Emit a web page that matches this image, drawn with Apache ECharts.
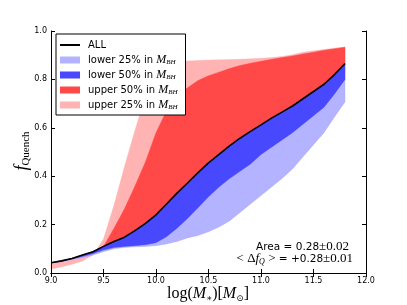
<!DOCTYPE html>
<html>
<head>
<meta charset="utf-8">
<script src="https://cdn.jsdelivr.net/npm/echarts@6/dist/echarts.min.js"></script>
<style>html,body{margin:0;padding:0;background:#fff;}#c{width:407px;height:305px;}</style>
</head>
<body>
<div id="c"></div>
<script>
// ---- data ----
const xs = [9.0,9.1,9.2,9.3,9.4,9.5,9.6,9.7,9.8,9.9,10.0,10.1,10.2,10.3,10.4,10.5,10.6,10.7,10.8,10.9,11.0,11.1,11.2,11.3,11.4,11.5,11.6,11.7,11.8];
const allLine = [0.042,0.05,0.06,0.074,0.088,0.11,0.13,0.148,0.175,0.205,0.24,0.285,0.33,0.372,0.415,0.455,0.49,0.525,0.557,0.585,0.612,0.64,0.665,0.69,0.72,0.75,0.78,0.82,0.865];
const lower25 = [0.042,0.048,0.056,0.064,0.074,0.088,0.1,0.105,0.108,0.11,0.113,0.12,0.13,0.145,0.155,0.17,0.19,0.215,0.25,0.285,0.32,0.355,0.39,0.43,0.48,0.53,0.58,0.645,0.707];
const lower50 = [0.042,0.048,0.058,0.068,0.08,0.095,0.105,0.11,0.113,0.117,0.125,0.15,0.185,0.225,0.27,0.315,0.355,0.39,0.42,0.45,0.49,0.52,0.55,0.58,0.615,0.65,0.685,0.74,0.80];
const upper50 = [0.042,0.05,0.06,0.074,0.088,0.11,0.185,0.265,0.36,0.46,0.58,0.67,0.73,0.765,0.795,0.815,0.83,0.845,0.857,0.867,0.875,0.883,0.89,0.897,0.905,0.912,0.92,0.927,0.933];
const upper25 = [0.017,0.025,0.036,0.05,0.074,0.14,0.28,0.44,0.59,0.73,0.82,0.862,0.872,0.876,0.878,0.88,0.881,0.882,0.883,0.885,0.887,0.89,0.895,0.902,0.912,0.918,0.924,0.929,0.934];
const xTickLabels = ['9.0','9.5','10.0','10.5','11.0','11.5','12.0'];
const yTickLabels = ['0.0','0.2','0.4','0.6','0.8','1.0'];
const names = {all:'ALL', l25:'lower 25% in M_BH', l50:'lower 50% in M_BH', u50:'upper 50% in M_BH', u25:'upper 25% in M_BH'};
const colors = {l25:'#b3b3ff', l50:'#4848ff', u50:'#ff4848', u25:'#ffb3b3'};
const fills = {l25:'rgba(160,160,255,0.8)', l50:'#4848ff', u50:'#ff4848', u25:'#ffb3b3'};

// band filled between the ALL curve and a band edge, mapped through the chart's axes
function band(key, edge) {
  const color = colors[key];
  const fill = fills[key];
  return {
    type:'custom', name: names[key], silent:true, animation:false,
    itemStyle:{color: color},
    data: xs.map((x,i)=>[x, edge[i]]),
    encode:{x:0, y:1},
    renderItem: function(params, api) {
      if (params.dataIndex !== 0) return null;
      const pts = [];
      for (let i = 0; i < xs.length; i++) pts.push(api.coord([xs[i], edge[i]]));
      for (let i = xs.length - 1; i >= 0; i--) pts.push(api.coord([xs[i], allLine[i]]));
      return {type:'polygon', shape:{points: pts}, style:{fill: fill, stroke: fill, lineWidth: 0.4}};
    }
  };
}

const series = [
  band('u25', upper25),
  band('u50', upper50),
  band('l25', lower25),
  band('l50', lower50),
  {type:'line', name: names.all, data: xs.map((x,i)=>[x, allLine[i]]), symbol:'none',
   lineStyle:{color:'#000', width:1.6}, itemStyle:{color:'#000'}, animation:false, z:5}
];

const serif = 'Liberation Serif';
const sans = 'DejaVu Sans';
const axisCommon = {
  axisLine:{show:true, lineStyle:{color:'#000', width:1}},
  axisTick:{show:true, inside:true, length:4, lineStyle:{color:'#000', width:1}},
  splitLine:{show:false}
};

const chart = echarts.init(document.getElementById('c'), null, {renderer:'canvas'});
chart.setOption({
  animation:false,
  backgroundColor:'#fff',
  grid:{left:51, top:31, width:315, height:242, show:false},
  xAxis:[
    Object.assign({type:'value', min:9, max:12, interval:0.5, position:'bottom', z:10,
      axisLabel:{show:true, margin:4, color:'#000', fontSize:8, fontFamily:sans,
        formatter:(v)=>xTickLabels[Math.round((v-9)/0.5)] || ''}}, axisCommon),
    Object.assign({type:'value', min:9, max:12, interval:0.5, position:'top', z:10,
      axisLabel:{show:false}}, axisCommon)
  ],
  yAxis:[
    Object.assign({type:'value', min:0, max:1, interval:0.2, position:'left', z:10,
      axisLabel:{show:true, margin:4, color:'#000', fontSize:8, fontFamily:sans,
        formatter:(v)=>yTickLabels[Math.round(v/0.2)] || ''}}, axisCommon),
    Object.assign({type:'value', min:0, max:1, interval:0.2, position:'right', z:10,
      axisLabel:{show:false}}, axisCommon)
  ],
  legend:{
    show:true, orient:'vertical', left:56, top:34, z:20,
    padding:[5,8,4,4], itemGap:3, itemWidth:20, itemHeight:7,
    borderColor:'#000', borderWidth:1, backgroundColor:'#fff', borderRadius:0,
    selectedMode:false,
    data:[
      {name:names.all, icon:'path://M0,0H20V2H0Z'},
      {name:names.l25, icon:'rect'},
      {name:names.l50, icon:'rect'},
      {name:names.u50, icon:'rect'},
      {name:names.u25, icon:'rect'}
    ],
    formatter:(n)=> n === 'ALL' ? 'ALL' : n.replace(' M_BH','') + ' {i|M}{s|BH}',
    textStyle:{color:'#000', fontSize:10, fontFamily:sans, lineHeight:12, padding:[0,0,0,3],
      rich:{
        i:{fontFamily:serif, fontStyle:'italic', fontSize:12, color:'#000', lineHeight:12},
        s:{fontFamily:serif, fontStyle:'italic', fontSize:7, color:'#000', verticalAlign:'bottom', lineHeight:9}
      }}
  },
  graphic:[
    {type:'text', x:22, y:151, rotation:Math.PI/2, silent:true,
     style:{text:'{f|f}{s|Quench}', align:'center', verticalAlign:'middle',
       rich:{
         f:{fontFamily:serif, fontStyle:'italic', fontSize:18, fill:'#000', lineHeight:20},
         s:{fontFamily:serif, fontSize:11, fill:'#000', verticalAlign:'bottom', lineHeight:14}
       }}},
    {type:'text', x:208, y:294, silent:true,
     style:{text:'{r|log(}{i|M}{s|∗}{r|)[}{i|M}{s|⊙}{r|]}', align:'center', verticalAlign:'middle',
       rich:{
         r:{fontFamily:serif, fontSize:16, fill:'#000', lineHeight:18},
         i:{fontFamily:serif, fontStyle:'italic', fontSize:16, fill:'#000', lineHeight:18},
         s:{fontFamily:'DejaVu Serif', fontSize:9, fill:'#000', verticalAlign:'bottom', lineHeight:13}
       }}},
    {type:'text', x:349, y:247, silent:true,
     style:{text:'{a|Area = 0.28}{m|±0.02}', align:'right', verticalAlign:'middle',
       rich:{
         a:{fontFamily:sans, fontSize:10.5, fill:'#000', lineHeight:14},
         m:{fontFamily:serif, fontSize:13, fill:'#000', lineHeight:14}
       }}},
    {type:'text', x:353, y:259, silent:true,
     style:{text:'{m|< Δ}{i|f}{s|Q}{m| >}{a| = +0.28}{m|±0.01}', align:'right', verticalAlign:'middle',
       rich:{
         a:{fontFamily:sans, fontSize:10.5, fill:'#000', lineHeight:14},
         m:{fontFamily:serif, fontSize:13, fill:'#000', lineHeight:14},
         i:{fontFamily:serif, fontStyle:'italic', fontSize:13, fill:'#000', lineHeight:14},
         s:{fontFamily:serif, fontStyle:'italic', fontSize:8, fill:'#000', verticalAlign:'bottom', lineHeight:12}
       }}}
  ],
  series: series
});
</script>
</body>
</html>
